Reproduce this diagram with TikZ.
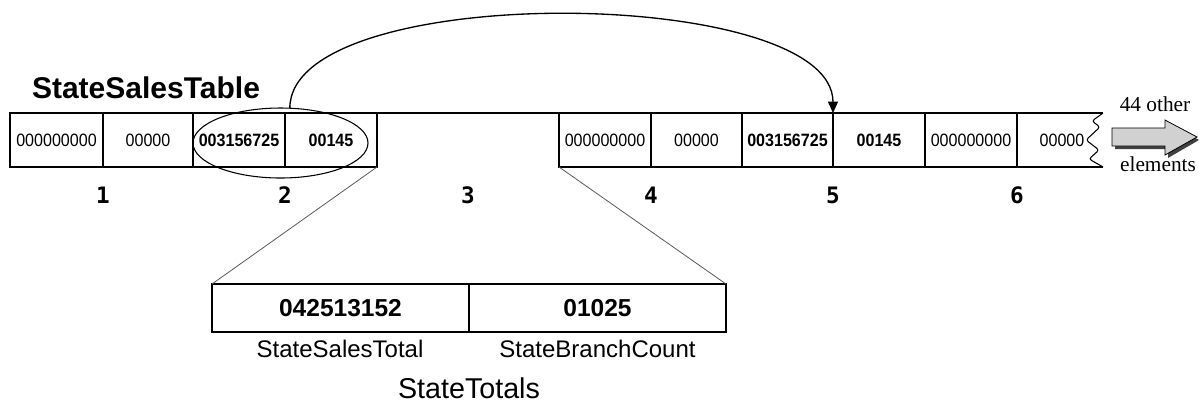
\documentclass[tikz,border=0pt]{standalone}
\usepackage{fontspec}
\setmainfont{Liberation Sans}
\newfontfamily\serifface{Liberation Serif}
\newfontfamily\monoface{DejaVu Sans Mono}
\newfontfamily\cellface[FakeStretch=0.9]{Liberation Sans}
\usetikzlibrary{arrows.meta,shapes.geometric}
\begin{document}
\begin{tikzpicture}[x=0.75pt,y=-0.75pt,
  fld/.style={draw, line width=1.2pt, outer sep=0pt, minimum height={54*0.75pt}, inner sep=0pt,
    font=\fontsize{13.4}{15}\cellface},
  bfld/.style={fld, font=\fontsize{13.4}{15}\cellface\bfseries},
  ifld/.style={draw, line width=1.1pt, outer sep=0pt, minimum height={48*0.75pt}, minimum width={257*0.75pt},
    inner sep=0pt, font=\fontsize{18.4}{20}\selectfont\bfseries},
  idx/.style={font=\fontsize{17}{19}\monoface\bfseries, inner sep=0pt},
  flab/.style={font=\fontsize{18}{20}\selectfont, inner sep=0pt},
  zoomline/.style={draw=black!65, line width=0.6pt},
  note/.style={font=\fontsize{16}{18}\serifface, inner sep=0pt}]
\useasboundingbox (0,0) rectangle (1199,405);

% title
\node[font=\fontsize{22.5}{24}\selectfont\bfseries, inner sep=0pt] (title) at (146,88) {StateSalesTable};

% element 1
\node[fld, minimum width={93*0.75pt}] (f1a) at (56.5,140) {000000000};
\node[fld, minimum width={90*0.75pt}] (f1b) at (148,140) {00000};
% element 2
\node[bfld, minimum width={92*0.75pt}] (f2a) at (239,140) {003156725};
\node[bfld, minimum width={92*0.75pt}] (f2b) at (331,140) {00145};
% element 4
\node[fld, minimum width={92*0.75pt}] (f4a) at (605,140) {000000000};
\node[fld, minimum width={91*0.75pt}] (f4b) at (696.5,140) {00000};
% element 5
\node[bfld, minimum width={91*0.75pt}] (f5a) at (787.5,140) {003156725};
\node[bfld, minimum width={92*0.75pt}] (f5b) at (879,140) {00145};
% element 6
\node[fld, minimum width={92*0.75pt}] (f6a) at (971,140) {000000000};
\node[inner sep=0pt, font=\fontsize{13.4}{15}\cellface] (f6b) at (1062,140) {00000};

\coordinate (wt) at (1103,113);
\coordinate (wb) at (1103,167);
\draw[line width=1.2pt] (f2b.north east) -- (f4a.north west);
\draw[line width=1.2pt] (f6a.north east) -- (wt);
\draw[line width=1.2pt] (f6a.south east) -- (wb);
\draw[line width=0.8pt, rounded corners=2pt] (wt) -- (1092,121) -- (1100,127) -- (1086,140)
  -- (1099,150) -- (1089,159) -- (wb);

% indices
\node[idx] (i1) at (103,195) {1};
\node[idx] (i2) at (285,195) {2};
\node[idx] (i3) at (468,195) {3};
\node[idx] (i4) at (651,195) {4};
\node[idx] (i5) at (833,195) {5};
\node[idx] (i6) at (1017,195) {6};

% ellipse around element 2
\node[draw, ellipse, line width=0.8pt, minimum width={175*0.75pt}, minimum height={70*0.75pt},
  inner sep=0pt, outer sep=0pt] (ell) at (280.5,143) {};

% arc arrow
\draw[line width=1pt, -{Triangle[length=8.5pt,width=7.5pt]}]
  (ell.75) .. controls +(0,-128) and +(0,-128) .. (f5a.north east);

% StateTotals record
\node[ifld] (sa) at (340.5,308) {042513152};
\node[ifld] (sb) at (597.5,308) {01025};
\node[flab] (la) at (340,349) {StateSalesTotal};
\node[flab] (lb) at (597.5,349) {StateBranchCount};
\node[font=\fontsize{21.5}{24}\selectfont, inner sep=0pt] (lt) at (469,388) {StateTotals};

% zoom lines
\draw[zoomline] (f2b.south east) -- (sa.north west);
\draw[zoomline] (f4a.south west) -- (sb.north east);

% block arrow with 44 other elements
\node[note] (n1) at (1155,104) {44 other};
\node[note] (n2) at (1158,164) {elements};
\fill[black!75] (1115,131) -- (1168,131) -- (1168,123) -- (1199,140) -- (1168,158) -- (1168,149) -- (1115,149) -- cycle;
\draw[line width=0.6pt, fill=black!18] (1112,128) -- (1165,128) -- (1165,120) -- (1197,137) -- (1165,155) -- (1165,146) -- (1112,146) -- cycle;
\end{tikzpicture}
\end{document}
